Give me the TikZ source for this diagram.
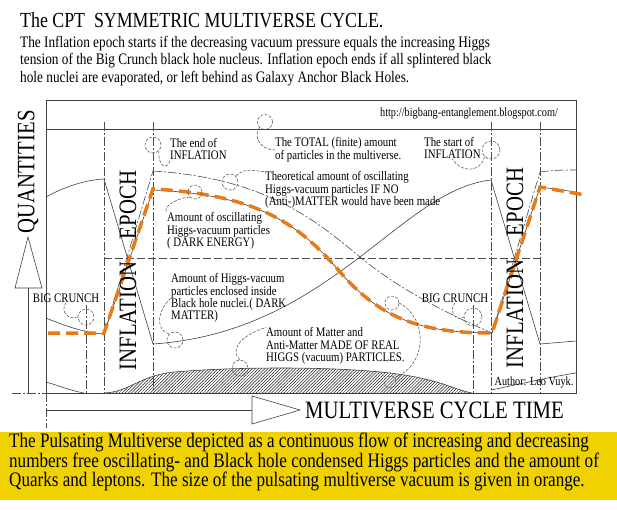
\documentclass[tikz,border=0pt]{standalone}
\usepackage{fontspec}
\setmainfont{Liberation Serif}[FakeStretch=0.83]
\usetikzlibrary{patterns.meta}
\definecolor{vacorange}{RGB}{232,122,24}
\definecolor{capyellow}{RGB}{240,210,0}

\begin{document}
\begin{tikzpicture}[x=1pt,y=-1pt,
  thin line/.style={black!75,line width=.6pt},
  dashdot line/.style={black!70,line width=.6pt,dash pattern=on 9pt off 2pt on 2pt off 2pt},
  hint/.style={black!70,line width=.5pt,dash pattern=on 3pt off 1.5pt},
  bub/.style={circle,draw=black!70,line width=.5pt,dash pattern=on 3pt off 1.5pt,inner sep=0pt,minimum size=#1},
  note/.style={font=\fontsize{13}{12.4}\selectfont,align=left,inner sep=0pt,anchor=west},
  big/.style={font=\fontsize{25}{25}\selectfont,inner sep=0pt},
  vacuum/.style={vacorange,line width=3.5pt,dash pattern=on 12pt off 6pt}]
\useasboundingbox (0,0) rectangle (617,509);
\fill[white] (0,0) rectangle (617,509);

% heading
\node[anchor=base west,inner sep=0,font=\fontsize{21.5}{24}\selectfont] (title) at (20,27) {The CPT\ \ SYMMETRIC MULTIVERSE CYCLE.};
\node[anchor=west,inner sep=0,align=left,font=\fontsize{16}{17.3}\selectfont] (intro) at (20,61)
  {The Inflation epoch starts if the decreasing vacuum pressure equals the increasing Higgs\\
   tension of the Big Crunch black hole nucleus. Inflation epoch ends if all splintered black\\
   hole nuclei are evaporated, or left behind as Galaxy Anchor Black Holes.};

% frame
\draw[black!75,line width=.7pt] (46,100) rectangle (576,393);
\draw[black!75,line width=.6pt] (46,129) -- (576,129);
\draw[dashdot line] (12,393) -- (46,393) (46,393) -- (46,428);

% epoch borders
\foreach \x/\t in {86/305,104/122,153/122,473/305,491/122,540/122}
  \draw[dashdot line] (\x,\t) -- (\x,393);
\draw[black!70,line width=.6pt,dash pattern=on 8pt off 3pt] (104,258) -- (540,258);

% matter (quarks and leptons)
\fill[pattern={Lines[angle=45,distance=2.2pt,line width=.5pt]},pattern color=black!90] (104,393) .. controls (130,392) and (140,375) .. (175,372)
  .. controls (230,367) and (330,366) .. (390,373) .. controls (440,379) and (455,390) .. (472,393) -- cycle;
\draw[thin line] (104,393) .. controls (130,392) and (140,375) .. (175,372)
  .. controls (230,367) and (330,366) .. (390,373) .. controls (440,379) and (455,390) .. (472,393);
\draw[thin line] (46,382) .. controls (60,386) and (72,391) .. (84,393);
\draw[thin line] (491,390) .. controls (520,384) and (550,377) .. (576,373);

% left crunch and inflation
\draw[thin line] (46,197) .. controls (66,186) and (86,180) .. (104,179);
\draw[thin line] (46,318) .. controls (70,328) and (88,333) .. (104,334);
\draw[thin line] (104,179) -- (153,344);
\draw[thin line] (104,334) -- (153,190);
\draw[dashdot line] (104,334) -- (153,171);

% cycle curves
\draw[thin line] (153,344) .. controls (330,332) and (400,190) .. (491,180);
\draw[thin line] (153,190) .. controls (260,195) and (300,225) .. (340,272) .. controls (380,318) and (420,333) .. (492,333);
\draw[dashdot line] (153,171) .. controls (260,178) and (310,215) .. (360,257) .. controls (400,290) and (450,315) .. (492,333);

% right inflation
\draw[thin line] (491,180) -- (540,344);
\draw[thin line] (492,333) -- (540,187);
\draw[dashdot line] (492,333) -- (540,172);
\draw[dashdot line] (540,172) .. controls (555,170) and (565,170) .. (576,170);
\draw[thin line] (540,187) -- (576,192);
\draw[thin line] (540,344) -- (576,341);

% vacuum size
\draw[vacuum] (48,333) -- (104,333) -- (153,189) .. controls (260,195) and (300,225) .. (340,272)
  .. controls (380,318) and (420,333) .. (492,333) -- (540,187) -- (585,195);

% axes
\draw[thin line] (28,393) -- (28,288);
\draw[thin line,fill=white] (15,288) -- (28,237) -- (42,288) -- cycle;
\draw[thin line] (46,410) -- (252,410);
\draw[thin line,fill=white] (252,396) -- (300,410) -- (252,424) -- cycle;
\node[big,rotate=90] (qty) at (28,172) {QUANTITIES};
\node[big,anchor=west] (time) at (305,410) {MULTIVERSE CYCLE TIME};

% epochs
\node[big,rotate=90] (infl) at (128,316) {INFLATION};
\node[big,rotate=90] (epl) at (128,205) {EPOCH};
\node[big,rotate=90] (infr) at (515,314) {INFLATION};
\node[big,rotate=90] (epr) at (515,202) {EPOCH};

% notes
\node[note,anchor=center,font=\fontsize{12.4}{12.4}\selectfont] (url) at (469,114) {http://bigbang-entanglement.blogspot.com/};
\node[note,anchor=center,font=\fontsize{12.4}{12.4}\selectfont] (author) at (534,383) {Author: Leo Vuyk.};

\node[note] (endinf) at (170,149) {The end of\\INFLATION};
\node[bub=16pt] (endc) at (153,145) {};
\draw[hint] (endc.south east) .. controls (158,168) and (168,170) .. (endinf.south west);

\node[note] (total) at (275,150) {The TOTAL (finite) amount\\of particles in the multiverse.};
\node[bub=15pt] (totc) at (265,122) {};
\draw[hint] (totc.south west) .. controls (252,138) and (262,150) .. (total.west);

\node[note] (theo) at (265,190) {Theoretical amount of oscillating\\Higgs-vacuum particles IF NO\\(Anti-)MATTER would have been made};
\node[bub=16pt] (theoc) at (230,182) {};
\draw[hint] (theoc.north east) .. controls (245,166) and (258,172) .. (theo.north west);

\node[note] (dark) at (167,231) {Amount of oscillating\\Higgs-vacuum particles\\( DARK ENERGY)};
\node[bub=14pt] (darkc) at (195,192) {};
\draw[hint] (darkc.south west) .. controls (175,198) and (162,208) .. (dark.north west);

\node[note] (matter) at (171,298) {Amount of Higgs-vacuum\\particles enclosed inside\\Black hole nuclei.( DARK\\MATTER)};
\node[bub=16pt] (matc) at (175,340) {};
\draw[hint] (matc.north west) .. controls (156,330) and (156,312) .. (matter.west);

\node[note] (real) at (266,346) {Amount of Matter and\\Anti-Matter MADE OF REAL\\HIGGS (vacuum) PARTICLES.};
\node[bub=16pt] (realc) at (240,368) {};
\draw[hint] (realc.north) .. controls (230,352) and (238,336) .. (real.north west);

\node[bub=14pt] (loopa) at (392,303) {};
\node[bub=12pt] (loopb) at (390,382) {};
\draw[hint] (loopa.east) .. controls (428,318) and (428,365) .. (loopb.north east);

\node[note,anchor=center] (bcl) at (66,298) {BIG CRUNCH};
\node[bub=16pt] (bclc) at (86,317) {};
\draw[hint] (bcl.south) .. controls (60,312) and (68,320) .. (bclc.west);

\node[note,anchor=center] (bcr) at (455,298) {BIG CRUNCH};
\node[bub=18pt] (bcrc) at (473,317) {};
\draw[hint] (bcr.south) .. controls (448,312) and (456,322) .. (bcrc.west);

\node[note] (start) at (424,148) {The start of\\INFLATION};
\node[bub=18pt] (startc) at (491,150) {};
\draw[hint] (startc.south west) .. controls (480,174) and (460,172) .. (start.south);

% caption
\fill[capyellow] (0,432) rectangle (617,500);
\node[anchor=west,inner sep=0,align=left,font=\fontsize{20.6}{19.2}\selectfont] (caption) at (9,462)
  {The Pulsating Multiverse depicted as a continuous flow of increasing and decreasing\\
   numbers free oscillating- and Black hole condensed Higgs particles and the amount of\\
   Quarks and leptons. The size of the pulsating multiverse vacuum is given in orange.};
\end{tikzpicture}
\end{document}
